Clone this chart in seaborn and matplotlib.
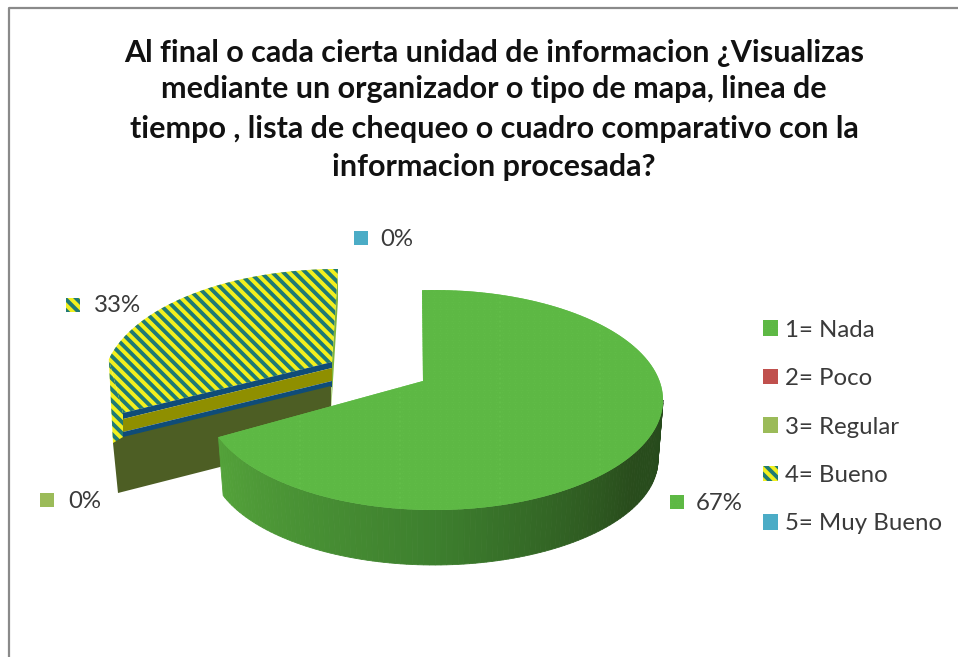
import numpy as np
import matplotlib
matplotlib.use("Agg")
import matplotlib.pyplot as plt
from matplotlib.patches import Patch, Polygon
import seaborn as sns

categories = ['1= Nada', '2= Poco', '3= Regular', '4= Bueno', '5= Muy Bueno']
shares = [67, 0, 0, 33, 0]
title_lines = ['Al final o cada cierta unidad de informacion ¿Visualizas',
               'mediante un organizador o tipo de mapa, linea de',
               'tiempo , lista de chequeo o cuadro comparativo con la',
               'informacion procesada?']

sns.set_theme(style='white')
plt.rcParams['font.family'] = ['Lato', 'DejaVu Sans']
plt.rcParams['hatch.linewidth'] = 2.8

colors = sns.color_palette(['#68C44E', '#C0504D', '#9BBB59', '#F2F01E', '#4BACC6'])
stripe = '#1F7A74'
stripes = '\\\\\\'
dots = '#5DB844'
text_color = '#3a3a3a'

# figure is drawn in pixel coordinates of the reference
fig = plt.figure(figsize=(9.58, 6.57), dpi=100)
ax = fig.add_axes([0, 0, 1, 1])
ax.set_xlim(0, 958)
ax.set_ylim(657, 0)
ax.axis('off')

# frame of the screenshot
ax.plot([9, 9, 958], [657, 8, 8], color='#8a8a8a', lw=1.6)

# title
for y, line in zip([53, 89, 129, 167], title_lines):
    ax.text(494, y, line, ha='center', va='center', fontsize=22, fontweight='bold', color='#111111')


def arc(cx, cy, a, b, t0, t1, n=160):
    t = np.radians(np.linspace(t0, t1, n))
    return np.column_stack([cx + a * np.cos(t), cy - b * np.sin(t)])


# big slice, the sweep comes from the share (the 3d view stretches it a little)
cx, cy, a, b = 434, 400, 229, 110
low_cy, low_a, low_b = 460, 224, 105
start = 93
end = start - shares[0] * 3.6 * 1.05

# side wall, darker to the right
t_side = np.linspace(end, 0, 110)
for t0, t1 in zip(t_side[:-1], t_side[1:]):
    top = arc(cx, cy, a, b, t0, t1, n=2)
    low = arc(cx, low_cy, low_a, low_b, t1, t0, n=2)
    mid = (t0 + t1) / 2
    col = [np.interp(mid, [end, -90, -30, 0], c) for c in
           ([0.33, 0.24, 0.16, 0.15], [0.64, 0.50, 0.30, 0.29], [0.23, 0.18, 0.11, 0.11])]
    ax.add_patch(Polygon(np.vstack([top, low]), closed=True, fc=col, ec=col, lw=0.6, zorder=4))
ax.add_patch(Polygon(np.vstack([[423, 381], arc(cx, cy, a, b, start, end)]), closed=True,
                     fc=colors[0], ec=dots, hatch='.......', lw=0, zorder=5))

# small slice pulled out to the left, with the zero-share slices showing as thin bands
lx, ly, la, lb = 338, 385, 235, 116
l_start = 90
l_end = l_start + shares[3] * 3.6 * 0.65
edge = arc(lx, ly, la, lb, l_start, l_end)
inner_l, inner_r = np.array([123, 413]), np.array([332, 362])

ax.add_patch(Polygon([edge[-1], (113, 443), (125, 443), inner_l], closed=True,
                     fc=colors[3], ec=stripe, hatch=stripes, lw=0, zorder=1))
ax.add_patch(Polygon([edge[0], inner_r, (331, 412), (338, 300)], closed=True,
                     fc='#7FB53A', lw=0, zorder=1))
ax.add_patch(Polygon(np.vstack([edge, inner_l, inner_r]), closed=True,
                     fc=colors[3], ec=stripe, hatch=stripes, lw=0, zorder=2))

# bands below the inner edge
for d0, d1, col in [(0, 6, '#0F4C78'), (6, 19, '#8F8F00'), (19, 25, '#0F4C78')]:
    ax.add_patch(Polygon([inner_l + (0, d0), inner_r + (0, d0), inner_r + (0, d1), inner_l + (0, d1)],
                         closed=True, fc=col, lw=0, zorder=3))
ax.add_patch(Polygon([(113, 443), (123, 437), (331, 386), (331, 412), (220, 467), (118, 493)], closed=True,
                     fc='#4D5E24', lw=0, zorder=3))

# data labels, text from the shares
label_idx = [4, 3, 2, 0]
label_text_xy = [(380, 239), (94, 306), (68, 502), (696, 503)]
label_mark_xy = [(361, 238), (73, 305), (47, 500), (677, 502)]
for i, (tx, ty), (mx, my) in zip(label_idx, label_text_xy, label_mark_xy):
    ax.text(tx, ty, f'{shares[i]}%', ha='left', va='center', fontsize=17.3, color=text_color)
    s = 7
    hatch = stripes if i == 3 else ('.......' if i == 0 else None)
    ax.add_patch(Polygon([(mx - s, my - s), (mx + s, my - s), (mx + s, my + s), (mx - s, my + s)],
                         closed=True, fc=colors[i], ec=stripe if i == 3 else dots,
                         hatch=hatch, lw=0))

# legend
handles = []
for i, name in enumerate(categories):
    if i == 0:
        handles.append(Patch(fc=colors[i], ec=dots, hatch='.......', lw=0, label=name))
    elif i == 3:
        handles.append(Patch(fc=colors[i], ec=stripe, hatch=stripes, lw=0, label=name))
    else:
        handles.append(Patch(fc=colors[i], lw=0, label=name))
leg = ax.legend(handles=handles, loc='center left', bbox_to_anchor=(763 / 958, 1 - 427 / 657),
                frameon=False, fontsize=17.3, handlelength=0.62, handleheight=0.62,
                handletextpad=0.3, labelspacing=1.14, labelcolor=text_color, borderpad=0,
                borderaxespad=0)

fig.savefig('out.png', dpi=100)
